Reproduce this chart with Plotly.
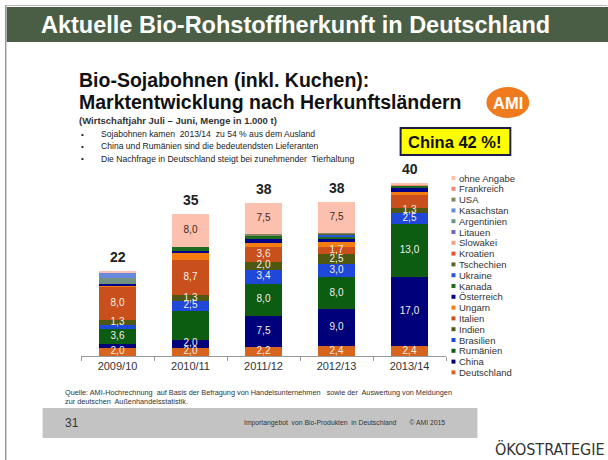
import plotly.graph_objects as go

# ---------------- data ----------------
years = ["2009/10", "2010/11", "2011/12", "2012/13", "2013/14"]
totals = ["22", "35", "38", "38", "40"]

# stack order: bottom -> top
series = ["Deutschland", "China", "Rumänien", "Brasilien", "Indien", "Italien", "Ungarn",
          "Österreich", "Kanada", "Ukraine", "Tschechien", "Kroatien", "Slowakei", "Litauen",
          "Argentinien", "Kasachstan", "USA", "Frankreich", "ohne Angabe"]

deutschland = [2.0, 2.0, 2.2, 2.4, 2.4]
china       = [1.0, 2.0, 7.5, 9.0, 17.0]
rumaenien   = [3.6, 7.0, 8.0, 8.0, 13.0]
brasilien   = [1.0, 2.5, 3.4, 3.0, 2.5]
indien      = [1.3, 1.3, 2.0, 2.5, 1.3]
italien     = [8.0, 8.7, 3.6, 1.7, 3.2]
ungarn      = [0.3, 1.6, 1.0, 1.2, 0.8]
oesterreich = [0.5, 0.6, 1.0, 0.8, 0.8]
kanada      = [0.0, 1.0, 0.8, 0.7, 0.6]
ukraine     = [0.0, 0.0, 0.0, 0.3, 0.0]
tschechien  = [0.0, 0.0, 0.0, 0.3, 0.0]
kroatien    = [0.0, 0.0, 0.0, 0.0, 0.0]
slowakei    = [0.0, 0.0, 0.0, 0.0, 0.0]
litauen     = [0.0, 0.0, 0.0, 0.0, 0.0]
argentinien = [1.3, 0.0, 0.0, 0.0, 0.0]
kasachstan  = [1.2, 0.0, 0.0, 0.0, 0.0]
usa         = [0.0, 0.0, 0.4, 0.3, 0.0]
frankreich  = [0.0, 0.0, 0.0, 0.0, 0.3]
ohne_angabe = [0.5, 8.0, 7.5, 7.5, 0.3]

values = [deutschland, china, rumaenien, brasilien, indien, italien, ungarn, oesterreich,
          kanada, ukraine, tschechien, kroatien, slowakei, litauen, argentinien, kasachstan,
          usa, frankreich, ohne_angabe]

colors = ["#d8651e", "#00007a", "#0c5c12", "#1f47d8", "#4f5812", "#c9501c", "#f57c10",
          "#000088", "#1d6b1f", "#2a55e0", "#5c6424", "#e0552a", "#f4a07c", "#7466c0",
          "#6f9282", "#6688dd", "#868662", "#f08872", "#fbc0ae"]

labelled_series = ["Deutschland", "China", "Rumänien", "Brasilien", "Indien", "Italien", "ohne Angabe"]
unlabelled = [("China", "2009/10"), ("Rumänien", "2010/11"), ("Brasilien", "2009/10"),
              ("Italien", "2013/14"), ("ohne Angabe", "2009/10"), ("ohne Angabe", "2013/14")]

# ---------------- geometry helpers (pixel -> paper) ----------------
W, H = 608, 460
L, R, T, B = 80.5, W - 446.5, 172, H - 356
PW, PH = W - L - R, H - T - B
def px(x): return (x - L) / PW
def py(y): return (H - B - y) / PH

FONT = "Liberation Sans, Arial, sans-serif"

fig = go.Figure()
for name, vals, col in zip(series, values, colors):
    fig.add_trace(go.Bar(x=years, y=vals, name=name, marker=dict(color=col, line=dict(width=0)),
                         hoverinfo="skip", showlegend=False))

# segment labels
base = [0.0] * len(years)
for name, vals in zip(series, values):
    if name in labelled_series:
        ys, ts = [], []
        for i, yr in enumerate(years):
            ys.append(base[i] + vals[i] / 2)
            ts.append("" if (name, yr) in unlabelled else f"{vals[i]:.1f}".replace(".", ","))
        fig.add_trace(go.Scatter(x=years, y=ys, text=ts, mode="text", showlegend=False,
                                 hoverinfo="skip",
                                 textfont=dict(family=FONT, size=10,
                                               color="#3a2a22" if name == "ohne Angabe" else "#f4efe6")))
    base = [b + v for b, v in zip(base, vals)]

annotations = []
# totals
for i, yr in enumerate(years):
    annotations.append(dict(x=yr, y=base[i], xref="x", yref="y", text=f"<b>{totals[i]}</b>",
                            showarrow=False, yanchor="bottom", yshift=4,
                            font=dict(family=FONT, size=14, color="#222")))

shapes = []
# slide frame
shapes.append(dict(type="line", xref="paper", yref="paper", x0=px(5), x1=px(5), y0=py(460), y1=py(5),
                   line=dict(color="#9a9a9a", width=1.5)))
shapes.append(dict(type="line", xref="paper", yref="paper", x0=px(5), x1=px(608), y0=py(5.5), y1=py(5.5),
                   line=dict(color="#b8b8b8", width=1)))
shapes.append(dict(type="rect", xref="paper", yref="paper", x0=px(6), x1=px(609), y0=py(42), y1=py(7),
                   fillcolor="#4a5e46", line=dict(width=0)))
annotations.append(dict(x=px(38), y=py(25), xref="paper", yref="paper", xanchor="left", yanchor="middle",
                        text="<b>Aktuelle Bio-Rohstoffherkunft in Deutschland</b>", showarrow=False,
                        font=dict(family=FONT, size=23.5, color="white")))

# chart titles
annotations.append(dict(x=px(76), y=py(80), xref="paper", yref="paper", xanchor="left", yanchor="middle",
                        text="<b>Bio-Sojabohnen (inkl. Kuchen):</b>", showarrow=False,
                        font=dict(family=FONT, size=19.5, color="#111")))
annotations.append(dict(x=px(76), y=py(102), xref="paper", yref="paper", xanchor="left", yanchor="middle",
                        text="<b>Marktentwicklung nach Herkunftsländern</b>", showarrow=False,
                        font=dict(family=FONT, size=19.5, color="#111")))
annotations.append(dict(x=px(76), y=py(120), xref="paper", yref="paper", xanchor="left", yanchor="middle",
                        text="<b>(Wirtschaftjahr Juli – Juni, Menge in 1.000 t)</b>", showarrow=False,
                        font=dict(family=FONT, size=9.5, color="#333")))

# AMI logo
shapes.append(dict(type="circle", xref="paper", yref="paper", x0=px(487), x1=px(530), y0=py(118), y1=py(87),
                   fillcolor="#f07a1e", line=dict(width=0)))
annotations.append(dict(x=px(508.5), y=py(103), xref="paper", yref="paper", xanchor="center", yanchor="middle",
                        text="<b>AMI</b>", showarrow=False, font=dict(family=FONT, size=16.5, color="white")))

# bullets
bullets = ["Sojabohnen kamen  2013/14  zu 54 % aus dem Ausland",
           "China und Rumänien sind die bedeutendsten Lieferanten",
           "Die Nachfrage in Deutschland steigt bei zunehmender  Tierhaltung"]
for k, t in enumerate(bullets):
    yy = 134 + k * 12.3
    annotations.append(dict(x=px(78), y=py(yy), xref="paper", yref="paper", xanchor="left", yanchor="middle",
                            text="•", showarrow=False, font=dict(family=FONT, size=8, color="#222")))
    annotations.append(dict(x=px(99), y=py(yy), xref="paper", yref="paper", xanchor="left", yanchor="middle",
                            text=t, showarrow=False, font=dict(family=FONT, size=8.6, color="#222")))

# China box
shapes.append(dict(type="rect", xref="paper", yref="paper", x0=px(401), x1=px(511), y0=py(155), y1=py(128),
                   fillcolor="#ffff00", line=dict(color="#1c1c4a", width=2)))
annotations.append(dict(x=px(456), y=py(141.5), xref="paper", yref="paper", xanchor="center", yanchor="middle",
                        text="<b>China 42 %!</b>", showarrow=False, font=dict(family=FONT, size=16.5, color="#111")))

# manual legend (top item = last series)
legend_items = list(zip(series, colors))[::-1]
for k, (name, col) in enumerate(legend_items):
    yy = 178 + k * 10.8
    shapes.append(dict(type="rect", xref="paper", yref="paper", x0=px(452), x1=px(456), y0=py(yy + 2), y1=py(yy - 2),
                       fillcolor=col, line=dict(width=0)))
    annotations.append(dict(x=px(458), y=py(yy), xref="paper", yref="paper", xanchor="left", yanchor="middle",
                            text=name, showarrow=False, font=dict(family=FONT, size=9.5, color="#333")))

# source
annotations.append(dict(x=px(62), y=py(397), xref="paper", yref="paper", xanchor="left", yanchor="middle",
                        text="Quelle: AMI-Hochrechnung  auf Basis der Befragung von Handelsunternehmen   sowie der  Auswertung von Meldungen<br>zur deutschen  Außenhandelsstatistik.",
                        align="left", showarrow=False, font=dict(family=FONT, size=7.3, color="#333")))

# footer band
shapes.append(dict(type="rect", xref="paper", yref="paper", x0=px(42), x1=px(478), y0=py(438), y1=py(408),
                   fillcolor="#c3c3c3", line=dict(width=0)))
annotations.append(dict(x=px(62), y=py(423), xref="paper", yref="paper", xanchor="left", yanchor="middle",
                        text="31", showarrow=False, font=dict(family=FONT, size=12, color="#333")))
annotations.append(dict(x=px(448), y=py(423), xref="paper", yref="paper", xanchor="right", yanchor="middle",
                        text="Importangebot  von Bio-Produkten  in Deutschland       © AMI 2015",
                        showarrow=False, font=dict(family=FONT, size=6.8, color="#333")))
annotations.append(dict(x=px(607), y=py(449), xref="paper", yref="paper", xanchor="right", yanchor="middle",
                        text="ÖKOSTRATEGIE", showarrow=False,
                        font=dict(family="DejaVu Sans Condensed, DejaVu Sans", size=16, color="#333")))

fig.update_layout(
    width=W, height=H, barmode="stack", bargap=0.49,
    margin=dict(l=L, r=R, t=T, b=B, pad=0),
    paper_bgcolor="white", plot_bgcolor="white",
    shapes=shapes, annotations=annotations,
    xaxis=dict(type="category", tickson="boundaries", ticks="outside", ticklen=4, tickcolor="#999",
               showline=True, linecolor="#999", linewidth=1, showgrid=False,
               tickfont=dict(family=FONT, size=11, color="#333"), fixedrange=True),
    yaxis=dict(visible=False, range=[0, 45], fixedrange=True),
    showlegend=False,
)

fig.write_html("out.html", config={"displayModeBar": False},
               post_script="document.body.style.margin='0';document.body.style.overflow='hidden';")
